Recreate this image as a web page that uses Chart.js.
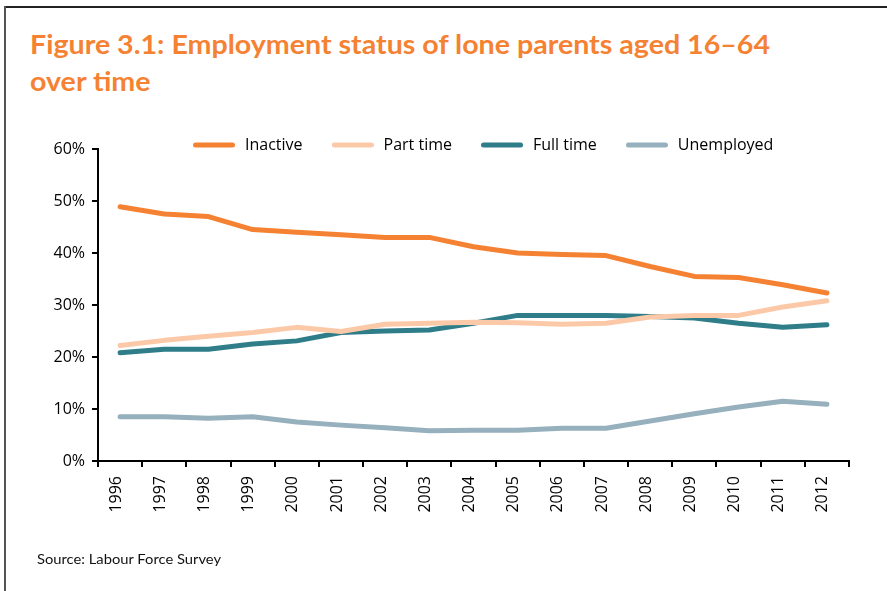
<!DOCTYPE html>
<html>
<head>
<meta charset="utf-8">
<script src="https://cdn.jsdelivr.net/npm/chart.js@4.4.1/dist/chart.umd.min.js"></script>
<style>
html,body{margin:0;padding:0;background:#fff;width:887px;height:591px;overflow:hidden;}
#wrap{position:relative;width:887px;height:591px;}
#c{position:absolute;left:0;top:0;}
.frame-top{position:absolute;left:4px;top:6px;width:883px;height:2px;background:#222;}
.frame-left{position:absolute;left:4px;top:6px;width:2px;height:585px;background:#555;}
.title{position:absolute;left:30px;font-family:'Lato';font-weight:700;color:#F58233;font-size:26px;line-height:1;white-space:nowrap;transform-origin:0 0;}
.src{position:absolute;left:37px;top:552px;font-family:'Lato';font-size:14px;line-height:1;color:#111;white-space:nowrap;transform-origin:0 0;}
</style>
</head>
<body>
<div id="wrap">
  <div class="frame-top"></div>
  <div class="frame-left"></div>
  <div class="title" id="t1" style="top:31px">Figure 3.1: Employment status of lone parents aged 16–64</div>
  <div class="title" id="t2" style="top:68px">over time</div>
  <canvas id="c" width="887" height="591"></canvas>
  <div class="src" id="src">Source: Labour Force Survey</div>
</div>
<script>
// ---- data ----
const years = ['1996','1997','1998','1999','2000','2001','2002','2003','2004','2005','2006','2007','2008','2009','2010','2011','2012'];
const seriesNames = ['Inactive','Part time','Full time','Unemployed'];
const inactive   = [48.9, 47.5, 47.0, 44.5, 44.0, 43.5, 43.0, 43.0, 41.2, 40.0, 39.7, 39.5, 37.4, 35.5, 35.3, 33.9, 32.3];
const partTime   = [22.2, 23.2, 24.0, 24.7, 25.7, 24.9, 26.3, 26.5, 26.7, 26.6, 26.3, 26.5, 27.7, 28.0, 28.0, 29.6, 30.8];
const fullTime   = [20.8, 21.5, 21.5, 22.5, 23.1, 24.7, 25.0, 25.2, 26.5, 28.0, 28.0, 28.0, 27.8, 27.5, 26.5, 25.7, 26.2];
const unemployed = [8.5, 8.5, 8.2, 8.5, 7.5, 6.9, 6.4, 5.8, 5.9, 5.9, 6.3, 6.3, 7.7, 9.1, 10.4, 11.5, 10.9];
const yTicks = [0, 10, 20, 30, 40, 50, 60];

// ---- styles ----
const colors = ['#F58233', '#FCC9A8', '#2E7D89', '#97B0BD'];

// fit titles to measured widths
(function(){
  const t1 = document.getElementById('t1');
  const w1 = t1.getBoundingClientRect().width;
  const s = 740 / w1;
  t1.style.transform = 'scaleX(' + s + ')';
  document.getElementById('t2').style.transform = 'scaleX(' + s + ')';
  const src = document.getElementById('src');
  src.style.transform = 'scaleX(' + (184 / src.getBoundingClientRect().width) + ')';
})();

function swatch(color){
  const cv = document.createElement('canvas');
  cv.width = 42; cv.height = 8;
  const g = cv.getContext('2d');
  g.strokeStyle = color; g.lineWidth = 5; g.lineCap = 'round';
  g.beginPath(); g.moveTo(2.5, 4); g.lineTo(39.5, 4); g.stroke();
  return cv;
}

Chart.defaults.font.family = "'Open Sans'";
Chart.defaults.font.size = 16;
Chart.defaults.color = '#000';

const dataArrays = [inactive, partTime, fullTime, unemployed];
const datasets = seriesNames.map((n, i) => ({
  label: n,
  data: dataArrays[i],
  borderColor: colors[i],
  backgroundColor: colors[i],
  borderWidth: 5,
  pointRadius: 0,
  pointHoverRadius: 0,
  tension: 0,
  fill: false,
  borderCapStyle: 'round',
  borderJoinStyle: 'round'
}));

const legendShift = {
  id: 'legendShift',
  afterLayout(chart){
    const lg = chart.legend;
    if (!lg) return;
    const pad = lg.options.labels.padding;
    const curY = lg.top + pad + 8;
    const dy = 145 - curY;
    const curX = (lg.left + pad + lg.right - lg.lineWidths[0]) / 2;
    const dx = 191 - curX;
    lg.top += dy; lg.bottom += dy; lg.left += dx; lg.right += dx;
  }
};

new Chart(document.getElementById('c'), {
  type: 'line',
  data: { labels: years, datasets },
  plugins: [legendShift],
  options: {
    responsive: false,
    animation: false,
    devicePixelRatio: 1,
    layout: { padding: { left: 10, right: 38, top: 96, bottom: 0 } },
    plugins: {
      tooltip: { enabled: false },
      legend: {
        position: 'top',
        align: 'center',
        labels: {
          usePointStyle: true,
          pointStyleWidth: 46,
          boxHeight: 16,
          padding: 27,
          color: '#000',
          font: { size: 16 },
          generateLabels(chart){
            const items = Chart.defaults.plugins.legend.labels.generateLabels(chart);
            items.forEach((it, i) => { it.pointStyle = swatch(colors[i]); });
            return items;
          }
        }
      }
    },
    scales: {
      x: {
        type: 'category',
        offset: true,
        afterFit(s){ s.height = 130; },
        grid: { offset: true, drawOnChartArea: false, drawTicks: true, tickLength: 6, color: '#000', lineWidth: 2 },
        border: { display: true, color: '#000', width: 2 },
        ticks: { autoSkip: false, minRotation: 90, maxRotation: 90, padding: 9, labelOffset: -4, color: '#000', font: { size: 16 } }
      },
      y: {
        min: 0, max: 60,
        afterFit(s){ s.width = 88; },
        afterBuildTicks(s){ s.ticks = yTicks.map(v => ({ value: v })); },
        grid: { drawOnChartArea: false, drawTicks: true, tickLength: 6, color: '#000', lineWidth: 2 },
        border: { display: true, color: '#000', width: 2 },
        ticks: { padding: 7, color: '#000', font: { size: 16 }, callback: v => v + '%' }
      }
    }
  }
});
</script>
</body>
</html>
